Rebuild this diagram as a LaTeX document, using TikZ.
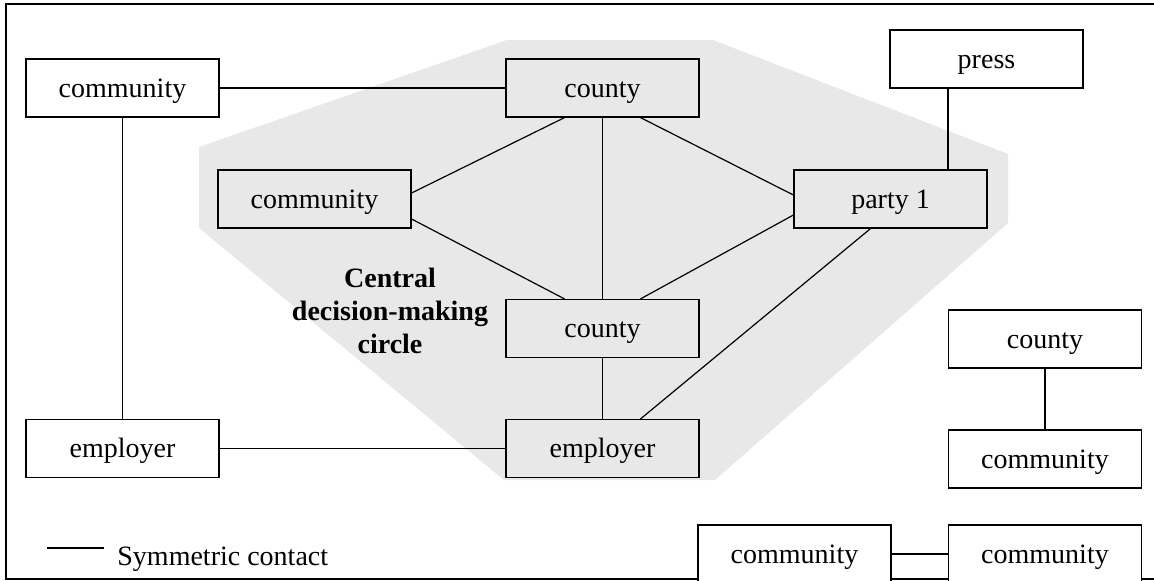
\documentclass[tikz,border=0pt]{standalone}
\usepackage{fontspec}
\setmainfont{Liberation Serif}
\usetikzlibrary{calc}

\tikzset{
    actor/.style={draw, line width=0.6pt, minimum width=96.5pt, minimum height=29pt,
        inner sep=0pt, text height=10pt, text depth=1pt, font=\fontsize{14}{16}\selectfont},
    contact/.style={line width=0.6pt}
}

\begin{document}
\begin{tikzpicture}[x=0.5pt, y=-0.5pt]
    \useasboundingbox (0,0) rectangle (1154,580);

    % Shaded central decision-making region
    \fill[black!9] (199,147) -- (507,40) -- (713,40) -- (1008,154) -- (1008,223)
        -- (715,480) -- (504,480) -- (199,228) -- cycle;

    % Outer frame (open to the right)
    \draw[line width=0.7pt] (1154,4) -- (6,4) -- (6,579) -- (1154,579);

    % Actors inside the circle
    \node[actor] (ctyTop) at (602.5,88) {county};
    \node[actor] (commMid) at (314.5,199) {community};
    \node[actor] (party) at (890.5,199) {party 1};
    \node[actor] (ctyMid) at (602.5,328.5) {county};
    \node[actor] (empMid) at (602.5,448.5) {employer};

    % Actors outside the circle
    \node[actor, fill=white] (commTop) at (122.5,88) {community};
    \node[actor, fill=white] (press) at (986.5,59) {press};
    \node[actor, fill=white] (empLeft) at (122.5,448.5) {employer};
    \node[actor, fill=white] (ctyRight) at (1045,339) {county};
    \node[actor, fill=white] (commRight) at (1045,459) {community};
    \node[actor, fill=white] (commBotL) at (794.5,554) {community};
    \node[actor, fill=white] (commBotR) at (1045,554) {community};

    % Label of the circle
    \node[font=\fontsize{14}{16.5}\selectfont\bfseries, align=center] (central) at (390,311)
        {Central\\decision-making\\circle};

    % Symmetric contacts
    \draw[contact] (commTop.east) -- (ctyTop.west);
    \draw[contact] (commTop.south) -- (empLeft.north);
    \draw[contact] (empLeft.east) -- (empMid.west);
    \draw[contact] ([xshift=-19pt]ctyTop.south) -- ([yshift=3pt]commMid.east);
    \draw[contact] (ctyTop.south) -- (ctyMid.north);
    \draw[contact] ([xshift=19pt]ctyTop.south) -- ([yshift=2pt]party.west);
    \draw[contact] ([yshift=-10pt]commMid.east) -- ([xshift=-19pt]ctyMid.north);
    \draw[contact] ([yshift=-8pt]party.west) -- ([xshift=19pt]ctyMid.north);
    \draw[contact] ([xshift=-10pt]party.south) -- ([xshift=19pt]empMid.north);
    \draw[contact] (ctyMid.south) -- (empMid.north);
    \draw[contact] ([xshift=-19.25pt]press.south) coordinate (pr) -- (pr |- party.north);
    \draw[contact] (ctyRight.south) -- (commRight.north);
    \draw[contact] (commBotL.east) -- (commBotR.west);

    % Legend
    \coordinate (legA) at (47,548);
    \coordinate (legB) at (104,548);
    \draw[contact] (legA) -- (legB);
    \node[anchor=base west, inner sep=0pt, font=\fontsize{14}{16}\selectfont] (legText) at (117,565)
        {Symmetric contact};
\end{tikzpicture}
\end{document}
